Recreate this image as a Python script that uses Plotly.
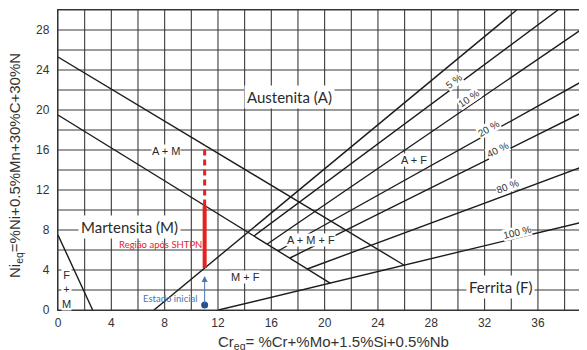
import math
import plotly.graph_objects as go

# ---------------- data ----------------
# Boundary lines of the Schaeffler diagram (Cr_eq, Ni_eq)
am_upper_x = [0, 25.94]          # A / A+M boundary
am_upper_y = [25.3, 4.5]
m_lower_x = [0, 20.44]           # A+M / M boundary
m_lower_y = [19.5, 2.67]
ferrite0_x = [7.2, 34.4]         # 0 % ferrite line
ferrite0_y = [0, 30]
fm_x = [0, 2.6]                  # F+M / M boundary
fm_y = [7.5, 0]
ferrite100_x = [12.04, 40.3]     # 100 % ferrite line
ferrite100_y = [0, 9.1]

# ferrite % lines: start (on A+M/M line) and end points
pct_names = ["5 %", "10 %", "20 %", "40 %", "80 %"]
pct_x0 = [14.7, 15.7, 16.5, 17.4, 18.7]
pct_y0 = [7.4, 6.6, 5.9, 5.2, 4.1]
pct_x1 = [37.5, 40.3, 40.3, 40.3, 40.3]
pct_y1 = [30, 29.0, 23.6, 20.4, 14.8]

# percentage label positions (all six labels incl. 100 %)
lab_names = ["5 %", "10 %", "20 %", "40 %", "80 %", "100 %"]
lab_x = [29.67, 30.8, 32.3, 33.0, 33.7, 34.4]
lab_y = [22.9, 21.2, 18.2, 16.1, 12.4, 7.8]
lab_slope = [0.99, 0.9125, 0.746, 0.664, 0.495, 0.32]

# red bar (region after SHTPN)
red_x = 11.0
red_solid_y = [4.2, 10.45]
red_dash_y = [10.45, 16.5]
# initial state
init_x = [11.0]
init_y = [0.5]
arrow_tip_y = 3.4

# region labels
regions = ["Austenita (A)", "Martensita (M)", "Ferrita (F)"]
regions_x = [17.4, 5.4, 33.2]
regions_y = [21.3, 8.3, 2.3]
small_regions = ["A + M", "A + F", "A + M + F", "M + F", "F<br>+<br>M"]
small_x = [8.07, 26.7, 19.0, 14.07, 0.6]
small_y = [15.9, 15.0, 7.0, 3.3, 2.1]

# grid every 2, labels every 4
x_grid = list(range(0, 42, 2))
y_grid = list(range(0, 32, 2))
x_ticks = list(range(0, 40, 4))
y_ticks = list(range(0, 32, 4))
x_edge_tick = 40   # partially visible at the cropped right edge

# ---------------- figure ----------------
# page body has an 8 px margin; figure is placed accordingly
W, H = 587, 350
ML, MR, MT, MB = 50, 0, 2, 48
XR = [0, 40.28]
YR = [0, 30]
pxx = (W - ML - MR) / (XR[1] - XR[0])
pxy = (H - MT - MB) / (YR[1] - YR[0])
PW = W - ML - MR
PH = H - MT - MB

LINE = dict(color="#1c1c1c", width=1.4)
GRID = "#3a3a3a"
fig = go.Figure()

# grid lines as shapes (every 2 units)
for gx in x_grid:
    fig.add_shape(type="line", xref="x", yref="paper", x0=gx, x1=gx, y0=0, y1=1,
                  line=dict(color=GRID, width=1.1), layer="below")
for gy in y_grid:
    fig.add_shape(type="line", xref="paper", yref="y", x0=0, x1=1, y0=gy, y1=gy,
                  line=dict(color=GRID, width=1.1), layer="below")

def add_line(xs, ys, line=LINE):
    fig.add_trace(go.Scatter(x=xs, y=ys, mode="lines", line=line,
                             hoverinfo="skip", showlegend=False))

add_line(am_upper_x, am_upper_y)
add_line(m_lower_x, m_lower_y)
add_line(ferrite0_x, ferrite0_y)
add_line(fm_x, fm_y)
add_line(ferrite100_x, ferrite100_y)
for i in range(len(pct_names)):
    add_line([pct_x0[i], pct_x1[i]], [pct_y0[i], pct_y1[i]])

# red bar
add_line([red_x, red_x], red_solid_y, dict(color="#e3221f", width=4))
add_line([red_x, red_x], red_dash_y, dict(color="#e3221f", width=3, dash="6px,4px"))

# initial state dot
fig.add_trace(go.Scatter(x=init_x, y=init_y, mode="markers",
                         marker=dict(color="#26508f", size=7),
                         hoverinfo="skip", showlegend=False))
fig.add_annotation(x=init_x[0], y=arrow_tip_y, ax=init_x[0], ay=init_y[0],
                   xref="x", yref="y", axref="x", ayref="y",
                   showarrow=True, arrowhead=2, arrowsize=1.2, arrowwidth=1,
                   arrowcolor="#4a76b0", text="")

# percentage labels
for n, x, y, s in zip(lab_names, lab_x, lab_y, lab_slope):
    ang = -math.degrees(math.atan(s * pxy / pxx))
    fig.add_annotation(x=x, y=y, text=n, showarrow=False, textangle=ang,
                       font=dict(family="Liberation Sans", size=10, color="#333"),
                       bgcolor="white", borderpad=0)

# big region labels
for t, x, y in zip(regions, regions_x, regions_y):
    fig.add_annotation(x=x, y=y, text=t, showarrow=False,
                       font=dict(family="Lato", size=15, color="#2a2a2a"),
                       bgcolor="white", borderpad=2)
for t, x, y in zip(small_regions, small_x, small_y):
    fig.add_annotation(x=x, y=y, text=t, showarrow=False,
                       font=dict(family="Liberation Sans", size=11, color="#2a2a2a"),
                       bgcolor="white", borderpad=0)

fig.add_annotation(x=7.7, y=6.6, text="Região após SHTPN", showarrow=False,
                   font=dict(family="Lato", size=9.5, color="#e3221f"))
fig.add_annotation(x=8.4, y=1.2, text="Estado inicial", showarrow=False,
                   font=dict(family="Lato", size=9.5, color="#4a76b0"))

# edge tick label "40" (cropped by the window like in the reference)
fig.add_annotation(xref="x", yref="paper", x=x_edge_tick, y=(MT + PH - 314) / PH,
                   text=str(x_edge_tick), showarrow=False,
                   xanchor="center", yanchor="middle",
                   font=dict(family="Liberation Sans", size=12, color="#333"))

# axis titles (positions in figure pixels = screen pixels - 8)
fig.add_annotation(xref="paper", yref="paper", x=(325 - ML) / PW,
                   y=(MT + PH - 334) / PH,
                   text="Cr<sub>eq</sub>= %Cr+%Mo+1.5%Si+0.5%Nb", showarrow=False,
                   xanchor="center", yanchor="middle",
                   font=dict(family="Liberation Sans", size=15, color="#333"))
fig.add_annotation(xref="paper", yref="paper", x=(7 - ML) / PW,
                   y=(MT + PH - 158) / PH,
                   text="Ni<sub>eq</sub>=%Ni+0.5%Mn+30%C+30%N", showarrow=False,
                   textangle=-90, xanchor="center", yanchor="middle",
                   font=dict(family="Liberation Sans", size=15, color="#333"))

fig.update_xaxes(range=XR, tickmode="array", tickvals=x_ticks, automargin=False,
                 showgrid=False, zeroline=False,
                 showline=True, linecolor="#333", linewidth=1.3,
                 mirror=True, ticks="", ticklabelstandoff=1,
                 tickfont=dict(family="Liberation Sans", size=12, color="#333"))
fig.update_yaxes(range=YR, tickmode="array", tickvals=y_ticks, automargin=False,
                 showgrid=False, zeroline=False,
                 showline=True, linecolor="#333", linewidth=1.3,
                 ticks="", ticklabelstandoff=5,
                 tickfont=dict(family="Liberation Sans", size=12, color="#333"))

fig.update_layout(width=W, height=H, margin=dict(l=ML, r=MR, t=MT, b=MB),
                  plot_bgcolor="white", paper_bgcolor="white", showlegend=False)

fig.write_html("out.html")
